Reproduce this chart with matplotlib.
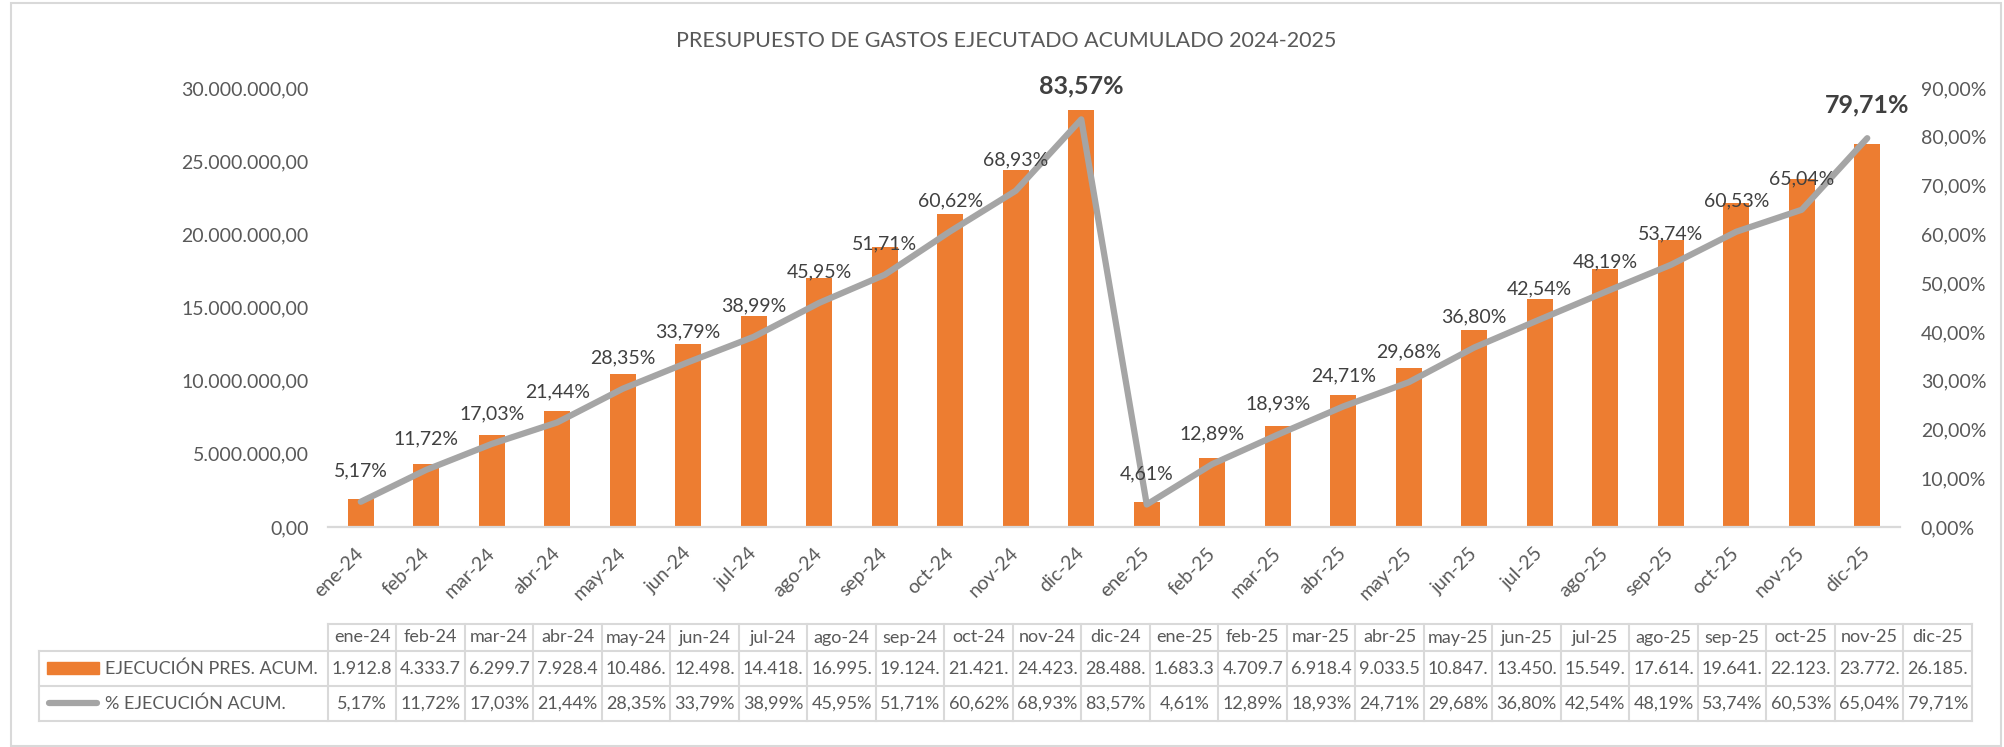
import matplotlib
matplotlib.use("Agg")
import matplotlib.pyplot as plt
from matplotlib.ticker import FuncFormatter
from matplotlib.patches import Rectangle

plt.rcParams['font.family'] = ['Lato', 'DejaVu Sans']

meses = ["ene-24", "feb-24", "mar-24", "abr-24", "may-24", "jun-24",
         "jul-24", "ago-24", "sep-24", "oct-24", "nov-24", "dic-24",
         "ene-25", "feb-25", "mar-25", "abr-25", "may-25", "jun-25",
         "jul-25", "ago-25", "sep-25", "oct-25", "nov-25", "dic-25"]

ejecucion = [1912850, 4333750, 6299750, 7928450, 10486500, 12498500,
             14418500, 16995500, 19124500, 21421500, 24423500, 28488500,
             1683350, 4709750, 6918450, 9033550, 10847500, 13450500,
             15549500, 17614500, 19641500, 22123500, 23772500, 26185500]

porcentaje = [5.17, 11.72, 17.03, 21.44, 28.35, 33.79, 38.99, 45.95,
              51.71, 60.62, 68.93, 83.57, 4.61, 12.89, 18.93, 24.71,
              29.68, 36.80, 42.54, 48.19, 53.74, 60.53, 65.04, 79.71]

# cierres de año: etiquetas en negrita
destacados = ["dic-24", "dic-25"]

serie_barras = "EJECUCIÓN PRES. ACUM."
serie_linea = "% EJECUCIÓN ACUM."
titulo = "PRESUPUESTO DE GASTOS EJECUTADO ACUMULADO 2024-2025"

NARANJA = "#ED7D31"
GRIS = "#A5A5A5"
TEXTO = "#595959"
BORDE = "#D9D9D9"

W, H = 2004, 747


def miles(v, decimales=2):
    s = f"{v:,.{decimales}f}"
    return s.replace(",", "X").replace(".", ",").replace("X", ".")


fig = plt.figure(figsize=(W / 100, H / 100), dpi=100)

# ejes principales (pixeles: x 328-1900, y 88-527)
ax = fig.add_axes([328 / W, (H - 527) / H, (1900 - 328) / W, (527 - 88) / H])
x = list(range(len(meses)))
ax.bar(x, ejecucion, width=0.4, color=NARANJA, zorder=2)
ax.set_xlim(-0.5, len(meses) - 0.5)
ax.set_ylim(0, 30000000)
ax.set_yticks(range(0, 30000001, 5000000))
ax.yaxis.set_major_formatter(FuncFormatter(lambda v, p: miles(v)))
ax.set_xticks(x)
ax.set_xticklabels(meses, rotation=45, ha="right", va="center",
                   rotation_mode="anchor")
ax.tick_params(axis="x", length=0, pad=17, labelsize=14, labelcolor=TEXTO)
ax.tick_params(axis="y", length=0, pad=14, labelsize=14, labelcolor=TEXTO)
for s in ["top", "left", "right"]:
    ax.spines[s].set_visible(False)
ax.spines["bottom"].set_color(BORDE)
ax.spines["bottom"].set_linewidth(1.6)

ax2 = ax.twinx()
ax2.plot(x, porcentaje, color=GRIS, lw=4.5, solid_capstyle="round",
         solid_joinstyle="round", zorder=3)
ax2.set_ylim(0, 90)
ax2.set_yticks(range(0, 91, 10))
ax2.yaxis.set_major_formatter(FuncFormatter(lambda v, p: miles(v) + "%"))
ax2.tick_params(axis="y", length=0, pad=15, labelsize=14, labelcolor=TEXTO)
for s in ax2.spines.values():
    s.set_visible(False)

for xi, mes, p in zip(x, meses, porcentaje):
    txt = miles(p) + "%"
    if mes in destacados:
        ax2.annotate(txt, (xi, p), xytext=(0, 24), textcoords="offset points",
                     ha="center", va="center", fontsize=18, fontweight="bold",
                     color="#404040", zorder=4)
    else:
        ax2.annotate(txt, (xi, p), xytext=(0, 22), textcoords="offset points",
                     ha="center", va="center", fontsize=14, color="#404040",
                     zorder=4)

# capa en pixeles para titulo, tabla de datos y marco
bg = fig.add_axes([0, 0, 1, 1], zorder=-1)
bg.set_xlim(0, W)
bg.set_ylim(H, 0)
bg.axis("off")

bg.add_patch(Rectangle((11, 3), 1990, 743, fill=False, edgecolor=BORDE, lw=1.5))
bg.text(1006, 41, titulo, ha="center", va="center", fontsize=15.5, color=TEXTO)

col0, colw = 328, 68.5
y_cab, y_f1, y_f2, y_fin = 624, 651, 686, 721
x_fin = col0 + colw * len(meses)
lc = dict(color=BORDE, lw=1.5)

# lineas de la tabla
bg.plot([col0, x_fin], [y_cab, y_cab], **lc)
for yy in (y_f1, y_f2, y_fin):
    bg.plot([39, x_fin], [yy, yy], **lc)
bg.plot([39, 39], [y_f1, y_fin], **lc)
for i in range(len(meses) + 1):
    xx = col0 + i * colw
    bg.plot([xx, xx], [y_cab, y_fin], **lc)

for i, (mes, v, p) in enumerate(zip(meses, ejecucion, porcentaje)):
    cx = col0 + (i + 0.5) * colw
    bg.text(cx, (y_cab + y_f1) / 2, mes, ha="center", va="center",
            fontsize=13, color=TEXTO)
    bg.text(cx, (y_f1 + y_f2) / 2, miles(v)[:7], ha="center", va="center",
            fontsize=13, color=TEXTO)
    bg.text(cx, (y_f2 + y_fin) / 2, miles(p) + "%", ha="center", va="center",
            fontsize=13, color=TEXTO)

# claves de la leyenda
bg.add_patch(Rectangle((47, 662), 52, 12, color=NARANJA))
bg.plot([49, 97], [703, 703], color=GRIS, lw=4.5, solid_capstyle="round")
bg.text(105, (y_f1 + y_f2) / 2, serie_barras, ha="left", va="center",
        fontsize=13, color=TEXTO)
bg.text(105, (y_f2 + y_fin) / 2, serie_linea, ha="left", va="center",
        fontsize=13, color=TEXTO)

fig.savefig("out.png", dpi=100, facecolor="white")
